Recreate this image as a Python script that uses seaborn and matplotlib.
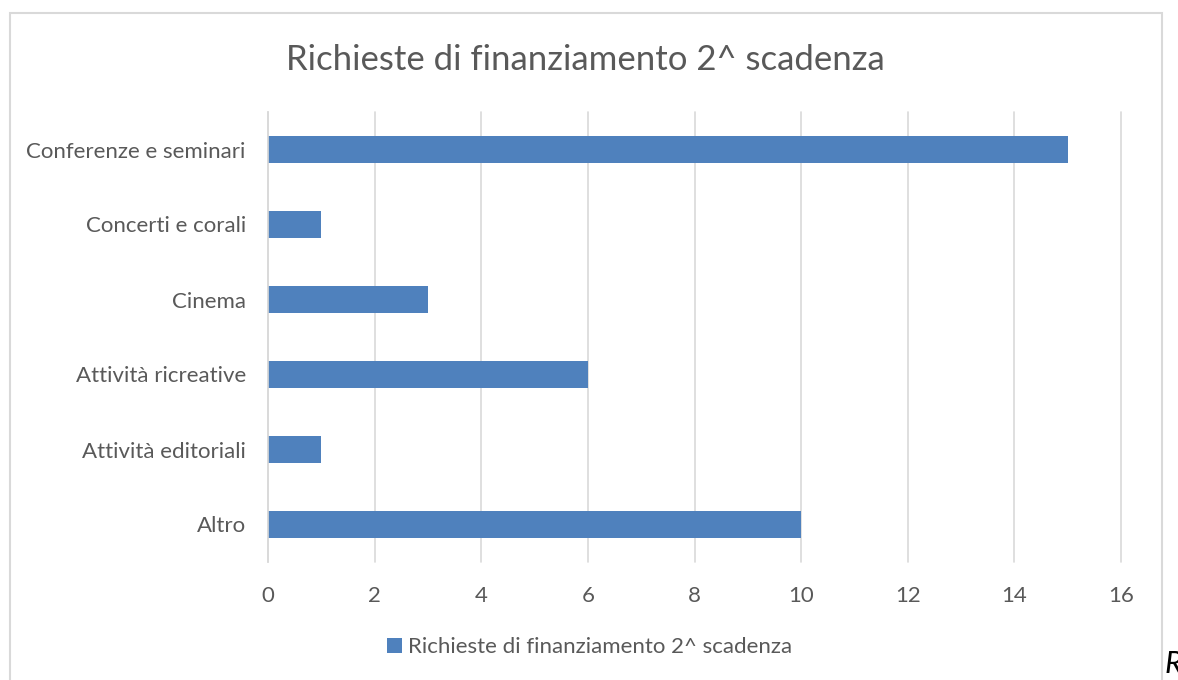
import pandas as pd
import seaborn as sns
import matplotlib.pyplot as plt
from matplotlib.patches import Rectangle

categorie = ["Conferenze e seminari", "Concerti e corali", "Cinema",
             "Attività ricreative", "Attività editoriali", "Altro"]
richieste = [15, 1, 3, 6, 1, 10]
serie = "Richieste di finanziamento 2^ scadenza"
x_ticks = [0, 2, 4, 6, 8, 10, 12, 14, 16]

df = pd.DataFrame({"categoria": categorie, "richieste": richieste})

sns.set_theme(style="white")
plt.rcParams['font.family'] = ['Lato', 'DejaVu Sans']

fig = plt.figure(figsize=(11.78, 6.8), dpi=100)
ax = fig.add_axes([268 / 1178, 1 - 562 / 680, (1121 - 268) / 1178, 450 / 680])

sns.barplot(data=df, x="richieste", y="categoria", orient="h",
            color="#4F81BD", saturation=1, width=0.36, ax=ax, label=serie,
            linewidth=0)

ax.set_xlim(0, 16)
ax.set_ylim(5.5, -0.5)
ax.set_xticks(x_ticks)
ax.grid(axis="x", color="#D9D9D9", linewidth=1.2)
for gl in ax.get_xgridlines():
    gl.set_clip_on(False)
ax.set_axisbelow(True)
for s in ["top", "right", "bottom"]:
    ax.spines[s].set_visible(False)
ax.spines["left"].set_color("#D9D9D9")
ax.spines["left"].set_linewidth(1.2)
ax.set_xlabel("")
ax.set_ylabel("")
ax.tick_params(axis="both", length=0, labelsize=16, labelcolor="#595959")
ax.tick_params(axis="x", pad=17)
ax.tick_params(axis="y", pad=16)

fig.text(585 / 1178, 1 - 60 / 680, serie, ha="center", va="center",
         fontsize=25, color="#595959")

ax.legend(loc="center", bbox_to_anchor=(590 / 1178, 1 - 647 / 680),
          bbox_transform=fig.transFigure, frameon=False, fontsize=16,
          labelcolor="#595959", handlelength=0.65, handleheight=0.65,
          handletextpad=0.3)

fig.patches.append(Rectangle((9.5 / 1178, -0.1), (1161.5 - 9.5) / 1178, 1.1 - 13 / 680,
                             transform=fig.transFigure, fill=False,
                             edgecolor="#D9D9D9", linewidth=1.5))
fig.text(1164 / 1178, 1 - 678 / 680, "R", style="italic", fontsize=22,
         color="black", ha="left", va="bottom")

fig.savefig("out.png", dpi=100)
